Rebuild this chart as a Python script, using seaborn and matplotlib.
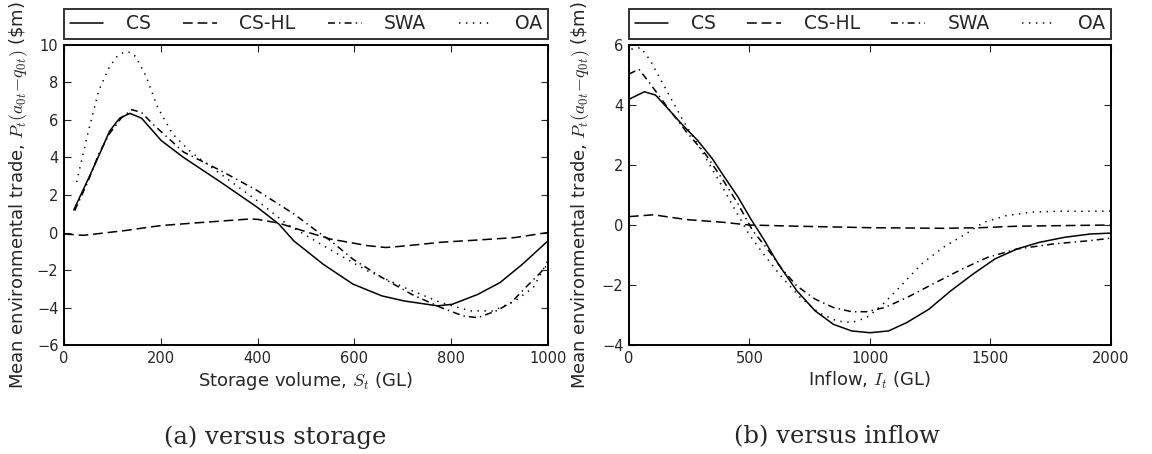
import matplotlib
matplotlib.use('Agg')

import numpy as np
import pandas as pd
import matplotlib.pyplot as plt
import seaborn as sns

# ---- data ----
methods = ['CS', 'CS-HL', 'SWA', 'OA']

# (a) versus storage
stor_cs_x = [20, 49, 72, 94, 115, 136, 160, 201, 247, 323, 399, 444, 475, 536, 597, 657, 703, 772, 802, 855, 901, 947, 1000]
stor_cs_y = [1.2, 2.8, 4.1, 5.4, 6.1, 6.35, 6.1, 4.9, 4.0, 2.7, 1.35, 0.45, -0.45, -1.7, -2.75, -3.38, -3.65, -3.91, -3.83, -3.3, -2.67, -1.7, -0.45]
stor_hl_x = [0, 41, 125, 200, 292, 384, 400, 444, 505, 551, 627, 665, 703, 779, 855, 932, 1000]
stor_hl_y = [-0.08, -0.15, 0.1, 0.37, 0.55, 0.72, 0.7, 0.5, 0.0, -0.35, -0.7, -0.8, -0.72, -0.52, -0.4, -0.27, 0.0]
stor_swa_x = [22, 49, 72, 94, 118, 140, 160, 186, 247, 323, 399, 475, 521, 551, 597, 657, 718, 779, 825, 855, 893, 924, 954, 985, 1000]
stor_swa_y = [1.17, 2.69, 4.2, 5.27, 6.1, 6.55, 6.4, 5.72, 4.29, 3.31, 2.24, 0.99, 0.1, -0.44, -1.42, -2.4, -3.29, -4.0, -4.45, -4.54, -4.18, -3.74, -2.93, -2.13, -1.68]
stor_oa_x = [26, 49, 72, 94, 110, 125, 138, 148, 170, 193, 224, 262, 323, 399, 460, 513, 566, 627, 703, 779, 840, 886, 932, 970, 1000]
stor_oa_y = [2.69, 5.27, 7.59, 8.84, 9.4, 9.64, 9.6, 9.38, 8.3, 6.7, 5.27, 4.29, 3.13, 1.7, 0.46, -0.35, -1.15, -2.04, -2.93, -3.74, -4.18, -4.18, -3.65, -2.93, -1.5]

# (b) versus inflow
infl_cs_x = [0, 64, 110, 148, 224, 285, 346, 392, 453, 506, 559, 620, 697, 773, 849, 925, 1001, 1078, 1154, 1245, 1337, 1428, 1520, 1611, 1703, 1809, 1916, 2000]
infl_cs_y = [4.19, 4.44, 4.33, 4.0, 3.32, 2.82, 2.21, 1.65, 0.93, 0.2, -0.47, -1.3, -2.19, -2.86, -3.31, -3.53, -3.59, -3.53, -3.25, -2.81, -2.19, -1.64, -1.13, -0.8, -0.58, -0.41, -0.3, -0.27]
infl_hl_x = [0, 102, 239, 392, 498, 697, 1001, 1306, 1459, 1611, 2000]
infl_hl_y = [0.28, 0.34, 0.18, 0.09, 0.0, -0.04, -0.09, -0.11, -0.09, -0.04, 0.0]
infl_swa_x = [0, 41, 87, 148, 239, 316, 392, 453, 514, 575, 636, 697, 773, 849, 925, 986, 1062, 1154, 1261, 1383, 1489, 1611, 1764, 1916, 2000]
infl_swa_y = [5.03, 5.19, 4.72, 4.05, 3.1, 2.38, 1.48, 0.7, -0.19, -0.8, -1.47, -2.03, -2.47, -2.75, -2.89, -2.89, -2.75, -2.42, -1.97, -1.47, -1.08, -0.8, -0.63, -0.52, -0.44]
infl_oa_x = [10, 49, 87, 148, 224, 300, 377, 438, 498, 559, 636, 712, 788, 864, 925, 986, 1047, 1123, 1215, 1306, 1398, 1474, 1566, 1672, 1794, 2000]
infl_oa_y = [5.86, 5.91, 5.5, 4.6, 3.49, 2.49, 1.43, 0.54, -0.3, -0.97, -1.75, -2.42, -2.92, -3.2, -3.25, -3.09, -2.7, -2.08, -1.3, -0.74, -0.3, 0.09, 0.31, 0.43, 0.46, 0.46]


def long_form(series):
    rows = []
    for name, xs, ys in series:
        for x, y in zip(xs, ys):
            rows.append({'x': x, 'y': y, 'method': name})
    return pd.DataFrame(rows)


df_stor = long_form([('CS', stor_cs_x, stor_cs_y), ('CS-HL', stor_hl_x, stor_hl_y),
                     ('SWA', stor_swa_x, stor_swa_y), ('OA', stor_oa_x, stor_oa_y)])
df_infl = long_form([('CS', infl_cs_x, infl_cs_y), ('CS-HL', infl_hl_x, infl_hl_y),
                     ('SWA', infl_swa_x, infl_swa_y), ('OA', infl_oa_x, infl_oa_y)])

sns.set_style('ticks')
plt.rcParams['font.family'] = ['DejaVu Sans']
plt.rcParams['mathtext.fontset'] = 'cm'
plt.rcParams['lines.scale_dashes'] = False
plt.rcParams['xtick.direction'] = 'in'
plt.rcParams['ytick.direction'] = 'in'
plt.rcParams['xtick.top'] = True
plt.rcParams['ytick.right'] = True

dash_map = {'CS': '', 'CS-HL': (7, 3.5), 'SWA': (5, 3, 1, 3), 'OA': (1, 4)}
ylab = r'Mean environmental trade, $P_t(a_{0t}\!-\!q_{0t})$ (\$m)'

fig = plt.figure(figsize=(11.52, 4.54), dpi=100)
ax1 = fig.add_axes([0.0556, 0.240, 0.420, 0.661])
ax2 = fig.add_axes([0.546, 0.240, 0.418, 0.661])

panels = [
    (ax1, df_stor, (0, 1000), np.arange(0, 1001, 200), (-6, 10), np.arange(-6, 11, 2),
     r'Storage volume, $S_t$ (GL)', -0.070),
    (ax2, df_infl, (0, 2000), np.arange(0, 2001, 500), (-4, 6), np.arange(-4, 7, 2),
     r'Inflow, $I_t$ (GL)', -0.076),
]

for ax, df, xlim, xticks, ylim, yticks, xlab, ylab_x in panels:
    sns.lineplot(data=df, x='x', y='y', style='method', style_order=methods,
                 dashes=dash_map, color='black', linewidth=1.1,
                 estimator=None, sort=False, legend=False, ax=ax)
    ax.set_xlim(*xlim)
    ax.set_ylim(*ylim)
    ax.set_xticks(xticks)
    ax.set_yticks(yticks)
    ax.tick_params(labelsize=10.5, length=5, width=0.8, pad=4)
    for sp in ax.spines.values():
        sp.set_linewidth(1.4)
        sp.set_color('black')
    ax.set_xlabel(xlab, fontsize=13, labelpad=3)
    ax.set_ylabel(ylab, fontsize=13)
    ax.yaxis.set_label_coords(ylab_x, 0.5)
    handles = ax.get_lines()[:4]
    leg = ax.legend(handles, methods, loc='lower left', bbox_to_anchor=(0, 1.02, 1, 0.1),
                    mode='expand', ncol=4, fontsize=13.5, frameon=True, fancybox=False,
                    borderaxespad=0, borderpad=0.3, handlelength=1.8, handletextpad=1.2)
    leg.get_frame().set_edgecolor('black')
    leg.get_frame().set_linewidth(1.4)

fig.text(275 / 1152, 0.037, '(a) versus storage', ha='center', va='center',
         family='DejaVu Serif', fontsize=17.5)
fig.text(837 / 1152, 0.037, '(b) versus inflow', ha='center', va='center',
         family='DejaVu Serif', fontsize=17.5)

fig.savefig('out.png', dpi=100)
